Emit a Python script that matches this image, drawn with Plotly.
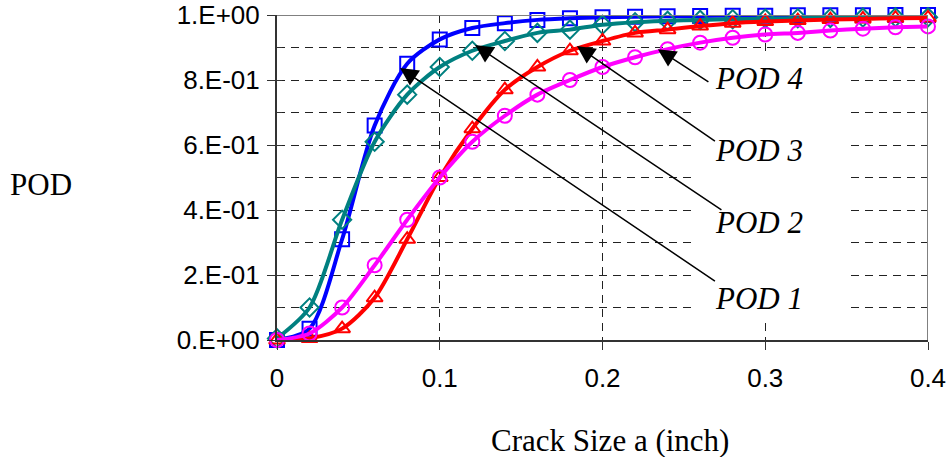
import plotly.graph_objects as go

crack_size = [0.00, 0.02, 0.04, 0.06, 0.08, 0.10, 0.12, 0.14, 0.16, 0.18, 0.20,
              0.22, 0.24, 0.26, 0.28, 0.30, 0.32, 0.34, 0.36, 0.38, 0.40]

pod1 = [0.0, 0.035, 0.31, 0.66, 0.85, 0.925, 0.96, 0.975, 0.985, 0.99, 0.993,
        0.995, 0.996, 0.997, 0.998, 0.998, 0.999, 0.999, 0.999, 1.0, 1.0]
pod2 = [0.005, 0.10, 0.37, 0.61, 0.755, 0.84, 0.89, 0.92, 0.945, 0.955, 0.97,
        0.978, 0.982, 0.985, 0.987, 0.989, 0.99, 0.991, 0.992, 0.993, 0.993]
pod3 = [0.0, 0.005, 0.035, 0.13, 0.31, 0.50, 0.65, 0.77, 0.84, 0.89, 0.92,
        0.945, 0.955, 0.966, 0.975, 0.98, 0.983, 0.986, 0.988, 0.99, 0.991]
pod4 = [0.0, 0.02, 0.10, 0.23, 0.37, 0.50, 0.61, 0.69, 0.755, 0.80, 0.84,
        0.87, 0.895, 0.915, 0.93, 0.94, 0.945, 0.952, 0.958, 0.962, 0.965]

series = [
    ("POD 1", pod1, "#0000FF", "square-open"),
    ("POD 2", pod2, "#008080", "diamond-open"),
    ("POD 3", pod3, "#FF0000", "triangle-up-open"),
    ("POD 4", pod4, "#FF00FF", "circle-open"),
]

y_tickvals = [0, 0.2, 0.4, 0.6, 0.8, 1.0]
y_ticktext = ["0.E+00", "2.E-01", "4.E-01", "6.E-01", "8.E-01", "1.E+00"]
x_tickvals = [0, 0.1, 0.2, 0.3, 0.4]
x_ticktext = ["0", "0.1", "0.2", "0.3", "0.4"]

# arrow annotations: label, tip (x, y), tail (x, y), text center (x, y)
labels = [
    ("POD 1", (0.0756, 0.837), (0.270, 0.178), (0.296, 0.128)),
    ("POD 2", (0.1217, 0.908), (0.274, 0.397), (0.296, 0.362)),
    ("POD 3", (0.1843, 0.905), (0.270, 0.609), (0.296, 0.582)),
    ("POD 4", (0.2340, 0.895), (0.266, 0.791), (0.296, 0.805)),
]

fig = go.Figure()
for name, vals, color, sym in series:
    fig.add_trace(go.Scatter(
        x=crack_size, y=vals, name=name, mode="lines+markers",
        line=dict(color=color, width=4, shape="spline", smoothing=0.8),
        marker=dict(symbol=sym, size=14, color=color, line=dict(color=color, width=2)),
        cliponaxis=False,
    ))

shapes = [
    # white text box hiding gridlines
    dict(type="rect", xref="x", yref="y", x0=0.2568, x1=0.3502, y0=0.055, y1=0.877,
         fillcolor="white", line=dict(width=0), layer="above"),
    # gray top and right border
    dict(type="line", xref="x", yref="y", x0=0, x1=0.4, y0=1, y1=1,
         line=dict(color="#808080", width=2)),
    dict(type="line", xref="x", yref="y", x0=0.4, x1=0.4, y0=0, y1=1,
         line=dict(color="#808080", width=2)),
]

annotations = []
for text, tip, tail, center in labels:
    annotations.append(dict(
        x=tip[0], y=tip[1], xref="x", yref="y", ax=tail[0], ay=tail[1],
        axref="x", ayref="y", text="", showarrow=True, arrowhead=2,
        arrowsize=2.4, arrowwidth=1.5, arrowcolor="black",
    ))
    annotations.append(dict(
        x=center[0], y=center[1], xref="x", yref="y", text="<i>" + text + "</i>",
        showarrow=False, font=dict(family="Liberation Serif", size=31, color="black"),
    ))

annotations.append(dict(x=41, y=185, xref="paper", yref="paper", text="POD",
                        showarrow=False, xanchor="center", yanchor="middle",
                        font=dict(family="Liberation Serif", size=31, color="black")))
annotations.append(dict(x=610, y=440, xref="paper", yref="paper", text="Crack Size a (inch)",
                        showarrow=False, xanchor="center", yanchor="middle",
                        font=dict(family="Liberation Serif", size=31, color="black")))

# convert pixel-based title positions to paper coordinates
W, H = 950, 457
ml, mr, mt, mb = 277, 22, 15, 117
pw, ph = W - ml - mr, H - mt - mb
for a in annotations[-2:]:
    a["x"] = (a["x"] - ml) / pw
    a["y"] = (H - mb - a["y"]) / ph

fig.update_layout(
    width=W, height=H, margin=dict(l=ml, r=mr, t=mt, b=mb, autoexpand=False),
    paper_bgcolor="white", plot_bgcolor="white", showlegend=False,
    shapes=shapes, annotations=annotations,
    xaxis=dict(range=[0, 0.4], tickvals=x_tickvals, ticktext=x_ticktext,
               showgrid=True, gridcolor="#222222", griddash="8px,6px", gridwidth=1,
               showline=True, linecolor="#333333", linewidth=2,
               ticks="outside", ticklen=8, tickwidth=1, tickcolor="#333333",
               tickfont=dict(family="Liberation Sans", size=26, color="black"),
               ticklabelstandoff=6, zeroline=False, automargin=False),
    yaxis=dict(range=[0, 1], tickvals=y_tickvals, ticktext=y_ticktext,
               showgrid=True, gridcolor="#222222", griddash="8px,6px", gridwidth=1,
               showline=True, linecolor="#333333", linewidth=2,
               ticks="outside", ticklen=8, tickwidth=1, tickcolor="#333333",
               tickfont=dict(family="Liberation Sans", size=26, color="black"),
               ticklabelstandoff=2, zeroline=False, automargin=False,
               minor=dict(dtick=0.1, showgrid=True, gridcolor="#222222",
                          griddash="8px,6px", gridwidth=1,
                          ticks="inside", ticklen=5, tickcolor="#333333")),
)

fig.write_html("out.html")
